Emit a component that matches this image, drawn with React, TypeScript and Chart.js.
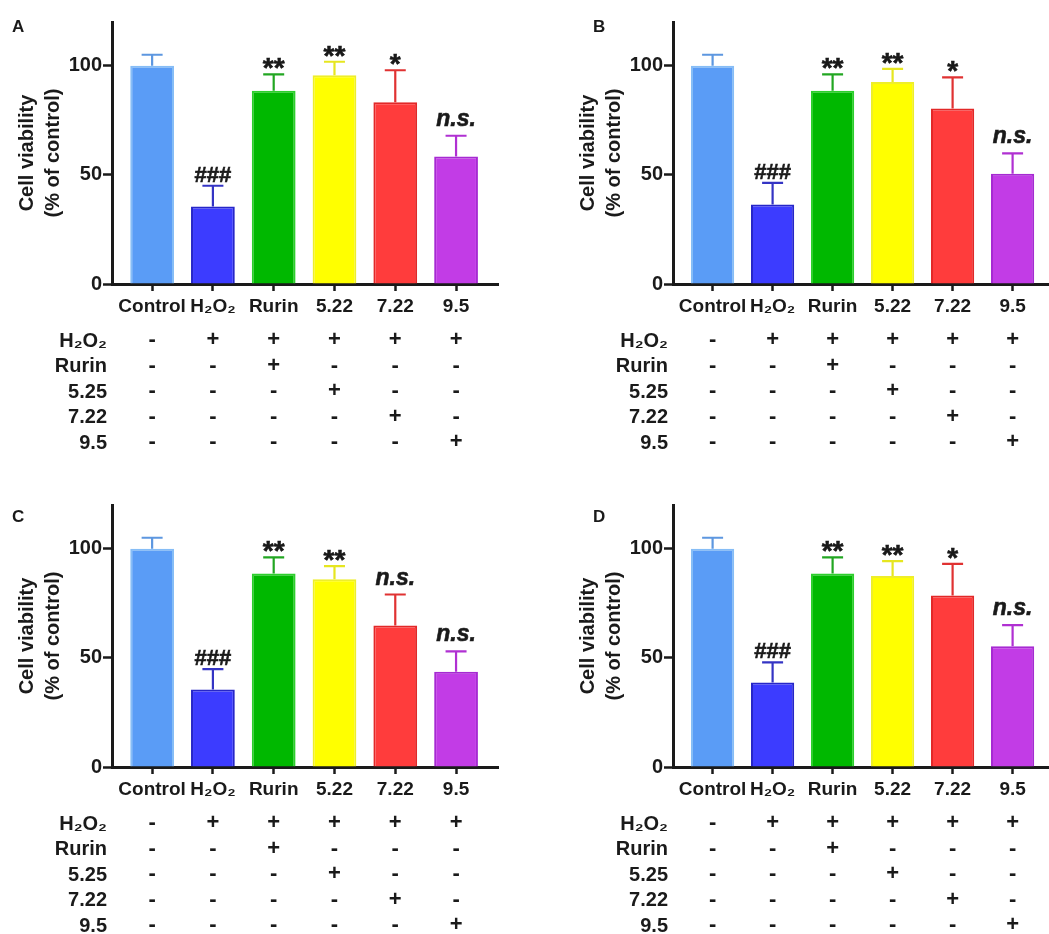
import React, { useEffect, useRef } from "react";
import { Chart, registerables } from "chart.js";

Chart.register(...registerables);

const FONT = "'Liberation Sans', Arial, Helvetica, sans-serif";
const INK = "#1a1a1a";

const categories = ["Control", "H\u2082O\u2082", "Rurin", "5.22", "7.22", "9.5"];
const yTicks = [0, 50, 100];
const yTitle = ["Cell viability", "(% of control)"];

const barFill = ["#5a9cf6", "#3c3cff", "#00b800", "#ffff00", "#ff3c3c", "#c23ce6"];
const barEdge = ["#86bdf6", "#2626c8", "#2ccf2c", "#eeee2a", "#e22828", "#a62ad2"];
const errColor = ["#5d97e0", "#3434c4", "#22a622", "#e6e620", "#e03232", "#b030d2"];

const valuesA = [100, 35.5, 88.5, 95.6, 83.3, 58.4];
const errorsA = [5, 9.5, 7.5, 6.2, 14.6, 9.5];
const marksA = ["", "###", "**", "**", "*", "n.s."];

const valuesB = [100, 36.4, 88.5, 92.5, 80.4, 50.5];
const errorsB = [5, 9.9, 7.5, 6.0, 14.2, 9.3];
const marksB = ["", "###", "**", "**", "*", "n.s."];

const valuesC = [100, 35.5, 88.6, 86.0, 64.8, 43.6];
const errorsC = [5, 9.3, 7.4, 6.0, 14.2, 9.4];
const marksC = ["", "###", "**", "**", "n.s.", "n.s."];

const valuesD = [100, 38.7, 88.6, 87.5, 78.6, 55.3];
const errorsD = [5, 9.2, 7.4, 6.8, 14.4, 9.7];
const marksD = ["", "###", "**", "**", "*", "n.s."];

const tableRowLabels = ["H\u2082O\u2082", "Rurin", "5.25", "7.22", "9.5"];
const tableSigns = [
  ["-", "+", "+", "+", "+", "+"],
  ["-", "-", "+", "-", "-", "-"],
  ["-", "-", "-", "+", "-", "-"],
  ["-", "-", "-", "-", "+", "-"],
  ["-", "-", "-", "-", "-", "+"],
];

type PanelProps = {
  letter: string;
  values: number[];
  errors: number[];
  marks: string[];
  left: number;
  top: number;
  width: number;
  padRight: number;
  letterX: number;
  letterY: number;
};

const H = 483;

function Panel(p: PanelProps) {
  const ref = useRef<HTMLCanvasElement | null>(null);

  useEffect(() => {
    if (!ref.current) return;
    const overlay = {
      id: "overlay",
      afterDatasetsDraw(chart: any) {
        const { ctx } = chart;
        const xs = chart.scales.x;
        const ys = chart.scales.y;
        ctx.save();
        p.values.forEach((v, i) => {
          const x = xs.getPixelForValue(i);
          const yTop = ys.getPixelForValue(v);
          const yCap = ys.getPixelForValue(v + p.errors[i]);
          ctx.strokeStyle = errColor[i];
          ctx.lineWidth = 2.2;
          ctx.beginPath();
          ctx.moveTo(x, yTop);
          ctx.lineTo(x, yCap);
          ctx.moveTo(x - 10.5, yCap);
          ctx.lineTo(x + 10.5, yCap);
          ctx.stroke();
          const m = p.marks[i];
          if (m) {
            ctx.fillStyle = INK;
            ctx.strokeStyle = INK;
            ctx.lineWidth = 0.6;
            ctx.textAlign = "center";
            ctx.textBaseline = "alphabetic";
            let yy = yCap;
            if (m === "n.s.") {
              ctx.font = `italic bold 23px ${FONT}`;
              yy = yCap - 10;
            } else if (m.startsWith("#")) {
              ctx.font = `bold 22px ${FONT}`;
              yy = yCap - 4;
            } else {
              ctx.font = `bold 28px ${FONT}`;
              yy = yCap + 3;
            }
            ctx.fillText(m, x, yy);
            ctx.strokeText(m, x, yy);
          }
        });
        ctx.restore();
      },
      afterDraw(chart: any) {
        const { ctx } = chart;
        const xs = chart.scales.x;
        const ys = chart.scales.y;
        const y0 = ys.getPixelForValue(0);
        ctx.save();
        ctx.fillStyle = INK;
        ctx.textBaseline = "middle";
        tableRowLabels.forEach((lab, r) => {
          const y = y0 + 57 + 25.6 * r;
          ctx.font = `bold 20px ${FONT}`;
          ctx.textAlign = "right";
          ctx.fillText(lab, xs.left - 5, y);
          ctx.font = `bold 22px ${FONT}`;
          ctx.textAlign = "center";
          tableSigns[r].forEach((s, c) => {
            ctx.fillText(s, xs.getPixelForValue(c), y - 1);
          });
        });
        ctx.font = `bold 17px ${FONT}`;
        ctx.textAlign = "left";
        ctx.textBaseline = "alphabetic";
        ctx.fillText(p.letter, p.letterX, p.letterY);
        ctx.restore();
      },
    };

    const chart = new Chart(ref.current, {
      type: "bar",
      data: {
        datasets: [
          {
            data: p.values.map((v, i) => ({ x: i, y: v })),
            backgroundColor: barFill,
            borderColor: barEdge,
            borderWidth: 2,
            barPercentage: 0.72,
            categoryPercentage: 1,
          },
        ],
      },
      options: {
        animation: false,
        responsive: false,
        devicePixelRatio: 1,
        layout: {
          autoPadding: false,
          padding: { left: 0, top: 22, right: p.padRight, bottom: H - 284 - 30 },
        },
        plugins: {
          legend: { display: false },
          tooltip: { enabled: false },
        },
        scales: {
          x: {
            type: "linear",
            min: -0.66,
            max: 5.69,
            offset: false,
            afterBuildTicks: (s: any) => {
              s.ticks = categories.map((_, i) => ({ value: i }));
            },
            afterFit: (s: any) => {
              s.height = 30;
            },
            grid: {
              display: true,
              offset: false,
              drawOnChartArea: false,
              drawTicks: true,
              tickLength: 7,
              tickWidth: 2.5,
              tickColor: INK,
            },
            border: { display: true, color: INK, width: 3 },
            ticks: {
              autoSkip: false,
              maxRotation: 0,
              minRotation: 0,
              padding: 4,
              color: INK,
              font: { family: FONT, size: 19, weight: "bold" },
              callback: (v: any) => categories[v as number] ?? "",
            },
          },
          y: {
            min: 0,
            max: 120,
            afterBuildTicks: (s: any) => {
              s.ticks = yTicks.map((v) => ({ value: v }));
            },
            afterFit: (s: any) => {
              s.width = 112;
            },
            grid: {
              drawOnChartArea: false,
              tickLength: 9,
              tickWidth: 2.5,
              tickColor: INK,
            },
            border: { display: true, color: INK, width: 3 },
            ticks: {
              padding: 1,
              color: INK,
              font: { family: FONT, size: 20, weight: "bold" },
            },
            title: {
              display: true,
              text: yTitle,
              color: INK,
              font: { family: FONT, size: 20, weight: "bold", lineHeight: 1.3 },
              padding: { top: 14, bottom: 0 },
            },
          },
        },
      },
      plugins: [overlay],
    } as any);

    return () => chart.destroy();
  }, []);

  return (
    <canvas
      ref={ref}
      width={p.width}
      height={H}
      style={{ position: "absolute", left: p.left, top: p.top, display: "block" }}
    />
  );
}

export default function App() {
  return (
    <div
      style={{
        position: "absolute",
        left: 0,
        top: 0,
        width: 1049,
        height: 934,
        overflow: "hidden",
        background: "#ffffff",
      }}
    >
      <Panel letter="A" values={valuesA} errors={errorsA} marks={marksA} left={0} top={0} width={561} padRight={63} letterX={12} letterY={32} />
      <Panel letter="B" values={valuesB} errors={errorsB} marks={marksB} left={561} top={0} width={500} padRight={7} letterX={32} letterY={32} />
      <Panel letter="C" values={valuesC} errors={errorsC} marks={marksC} left={0} top={483} width={561} padRight={63} letterX={12} letterY={39} />
      <Panel letter="D" values={valuesD} errors={errorsD} marks={marksD} left={561} top={483} width={500} padRight={7} letterX={32} letterY={39} />
    </div>
  );
}
